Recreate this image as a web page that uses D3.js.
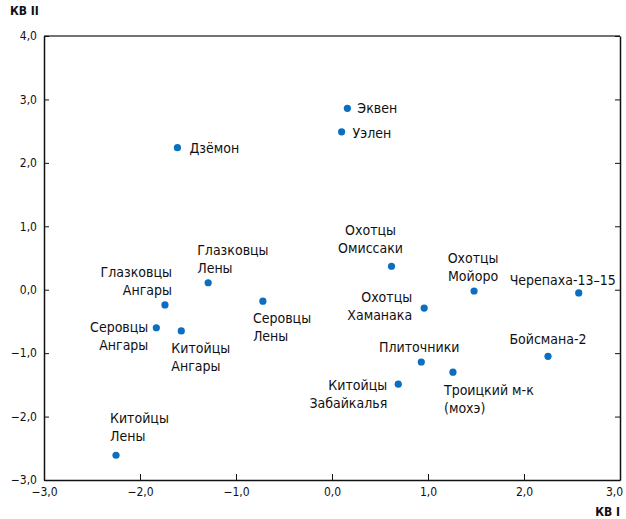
<!DOCTYPE html>
<html>
<head>
<meta charset="utf-8">
<script src="https://cdn.jsdelivr.net/npm/d3@7"></script>
<style>
  body { margin: 0; background: #fff; }
  .axis text { font-family: "Liberation Sans Narrow", "DejaVu Sans Condensed", sans-serif; font-size: 12px; fill: #111; }
  .axis path, .axis line { stroke: #111; }
  .lbl { font-family: "Liberation Sans Narrow", "DejaVu Sans Condensed", sans-serif; font-size: 14px; fill: #111; }
  .axis-title { font-family: "Liberation Sans Narrow", "DejaVu Sans Condensed", sans-serif; font-size: 12px; font-weight: bold; fill: #111; }
</style>
</head>
<body>
<svg id="chart" width="626" height="519"></svg>
<script>
  // groups (labels split in lines)
  var names = [
    ["Эквен"], ["Уэлен"], ["Дзёмон"],
    ["Охотцы", "Омиссаки"], ["Охотцы", "Мойоро"], ["Черепаха-13–15"],
    ["Охотцы", "Хаманака"], ["Глазковцы", "Лены"], ["Глазковцы", "Ангары"],
    ["Серовцы", "Лены"], ["Серовцы", "Ангары"], ["Китойцы", "Ангары"],
    ["Бойсмана-2"], ["Плиточники"], ["Троицкий м-к", "(мохэ)"],
    ["Китойцы", "Забайкалья"], ["Китойцы", "Лены"]
  ];
  var kv1 = [0.16, 0.10, -1.61, 0.62, 1.48, 2.57, 0.96, -1.29, -1.74, -0.72, -1.83, -1.57, 2.25, 0.93, 1.26, 0.69, -2.25];
  var kv2 = [2.86, 2.49, 2.24, 0.37, -0.02, -0.05, -0.29, 0.11, -0.24, -0.18, -0.60, -0.65, -1.05, -1.14, -1.30, -1.49, -2.61];
  var xTicks = [-3, -2, -1, 0, 1, 2, 3];
  var yTicks = [-3, -2, -1, 0, 1, 2, 3, 4];

  // label placement relative to the dot: anchor, dx, dy of first line
  var place = [
    ["start", 10, 0], ["start", 11, 1], ["start", 12, 0],
    ["middle", -21, -36], ["middle", -1, -33], ["middle", -16, -13],
    ["end", -12, -11], ["start", -11, -33], ["end", 7, -33],
    ["start", -10, 17], ["end", -8, -1], ["start", -10, 17],
    ["middle", 0, -17], ["middle", -2, -15], ["start", -9, 18],
    ["end", -11, 1], ["start", -6, -37]
  ];

  var margin = { top: 36, right: 6, bottom: 39, left: 44 };
  var width = 626 - margin.left - margin.right;
  var height = 519 - margin.top - margin.bottom;
  var LINE_H = 18;
  var DOT = "#0a6fc0";

  var ru = d3.formatLocale({ decimal: ",", thousands: " ", grouping: [3], currency: ["", ""], minus: "\u2212" });
  var fmt = ru.format(".1f");

  var x = d3.scaleLinear().domain([-3, 3]).range([0, width]);
  var y = d3.scaleLinear().domain([-3, 4]).range([height, 0]);

  var svg = d3.select("#chart").append("g")
    .attr("transform", "translate(" + margin.left + "," + margin.top + ")");

  svg.append("line")
    .attr("x1", 0).attr("x2", width).attr("y1", 0).attr("y2", 0)
    .attr("stroke", "#444").attr("stroke-width", 1.5);

  svg.append("g")
    .attr("class", "axis")
    .attr("transform", "translate(" + width + ",0)")
    .call(d3.axisRight(y).tickValues(yTicks).tickSizeInner(-5).tickSizeOuter(0).tickFormat(""));

  var xg = svg.append("g")
    .attr("class", "axis")
    .attr("transform", "translate(0," + height + ")")
    .call(d3.axisBottom(x).tickValues(xTicks).tickSizeInner(-6).tickSizeOuter(0).tickPadding(7).tickFormat(fmt));
  // keep the last label inside the page
  xg.selectAll(".tick text").filter(function (d) { return d === 3; }).attr("dx", -6);

  svg.append("g")
    .attr("class", "axis")
    .call(d3.axisLeft(y).tickValues(yTicks).tickSizeInner(-5).tickSizeOuter(0).tickPadding(7).tickFormat(fmt));

  svg.selectAll(".axis path").attr("stroke-width", 1.5);

  svg.append("text").attr("class", "axis-title")
    .attr("x", -34).attr("y", -21).text("КВ II");
  svg.append("text").attr("class", "axis-title")
    .attr("x", width).attr("y", height + 36)
    .attr("text-anchor", "end").text("КВ I");

  var pts = names.map(function (n, i) {
    return { name: n, x: kv1[i], y: kv2[i], p: place[i] };
  });

  svg.selectAll(".dot")
    .data(pts)
    .enter().append("circle")
    .attr("class", "dot")
    .attr("cx", function (d) { return x(d.x); })
    .attr("cy", function (d) { return y(d.y); })
    .attr("r", 3.6)
    .style("fill", DOT);

  var lbl = svg.selectAll(".lbl")
    .data(pts)
    .enter().append("text")
    .attr("class", "lbl")
    .attr("text-anchor", function (d) { return d.p[0]; })
    .attr("transform", function (d) {
      return "translate(" + (x(d.x) + d.p[1]) + "," + (y(d.y) + d.p[2]) + ")";
    });

  lbl.selectAll("tspan")
    .data(function (d) { return d.name; })
    .enter().append("tspan")
    .attr("x", 0)
    .attr("y", function (d, i) { return i * LINE_H; })
    .attr("dy", "0.35em")
    .text(function (d) { return d; });
</script>
</body>
</html>
